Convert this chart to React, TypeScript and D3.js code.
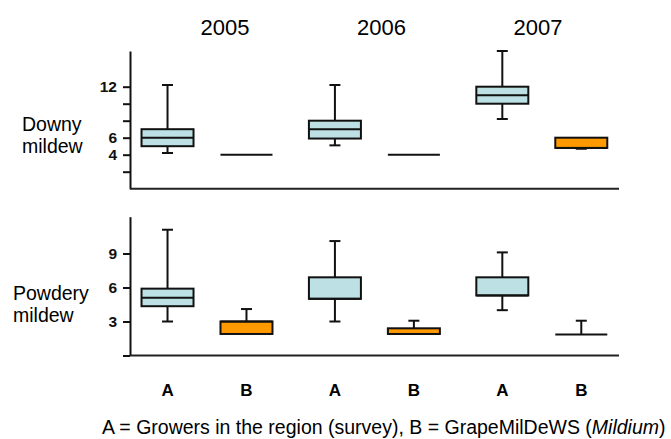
import { axisLeft, scaleBand, scaleLinear, scalePoint, select } from 'd3';
import { useEffect, useRef } from 'react';

// year groups and the two sources inside each group
const years = ['2005', '2006', '2007'];
const sources = ['A', 'B'];

// [min, q1, median, q3, max] per year, A then B
const downyA = [
  [4.2, 5, 6, 7, 12.2],
  [5.1, 5.9, 7, 8, 12.2],
  [8.2, 10, 11, 12, 16.2],
];
const downyB = [
  [4, 4, 4, 4, 4],
  [4, 4, 4, 4, 4],
  [4.7, 4.8, 4.8, 6, 6],
];
const powderyA = [
  [3, 4.35, 5.1, 5.9, 11.1],
  [3, 5, 5, 6.9, 10.1],
  [4, 5.3, 5.3, 6.9, 9.1],
];
const powderyB = [
  [1.9, 1.9, 3, 3, 4.1],
  [1.9, 1.9, 1.9, 2.4, 3.07],
  [1.85, 1.85, 1.85, 1.85, 3.07],
];

const downyTicks = [2, 4, 6, 8, 10, 12];
const downyLabels = [4, 6, 12];
const powderyTicks = [0, 3, 6, 9];
const powderyLabels = [3, 6, 9];

export default function App() {
  const svgRef = useRef<SVGSVGElement>(null);

  useEffect(() => {
    const width = 671;
    const height = 439;
    const font = "'Liberation Sans', Arial, sans-serif";
    const colors = { A: '#bce0e3', B: '#ff9900' };

    const svg = select(svgRef.current);
    svg.selectAll('*').remove();
    svg.attr('width', width).attr('height', height);

    const x = scaleBand().domain(years).range([123.3, 625.5]);
    const inner = scalePoint().domain(sources).range([0, x.bandwidth()]).padding(0.56);
    const titleX = scalePoint().domain(years).range([225, 538]);
    const boxW = 52;
    const capW = 11;
    const axisX = 130;
    const axisRight = 619;

    // year titles
    svg
      .selectAll('text.year')
      .data(years)
      .enter()
      .append('text')
      .attr('class', 'year')
      .attr('x', (d) => titleX(d)!)
      .attr('y', 35)
      .attr('text-anchor', 'middle')
      .attr('font-family', font)
      .attr('font-size', 22)
      .text((d) => d);

    const panels = [
      {
        name: ['Downy', 'mildew'],
        labelX: 22,
        labelY: 131,
        range: [188.7, 51],
        domain: [0, 16.2],
        ticks: downyTicks,
        labels: downyLabels,
        A: downyA,
        B: downyB,
      },
      {
        name: ['Powdery', 'mildew'],
        labelX: 13,
        labelY: 300,
        range: [355.5, 216.7],
        domain: [0, 12.25],
        ticks: powderyTicks,
        labels: powderyLabels,
        A: powderyA,
        B: powderyB,
      },
    ];

    panels.forEach((p) => {
      const y = scaleLinear().domain(p.domain).range(p.range);
      const g = svg.append('g');

      // panel label
      const lbl = g
        .append('text')
        .attr('font-family', font)
        .attr('font-size', 19.5)
        .attr('x', p.labelX)
        .attr('y', p.labelY);
      lbl.append('tspan').attr('x', p.labelX).text(p.name[0]);
      lbl.append('tspan').attr('x', p.labelX).attr('dy', 22).text(p.name[1]);

      // y axis
      const ax = g
        .append('g')
        .attr('transform', `translate(${axisX},0)`)
        .call(
          axisLeft(y)
            .tickValues(p.ticks)
            .tickSize(7)
            .tickPadding(6)
            .tickSizeOuter(0)
            .tickFormat((d) => (p.labels.includes(+d) ? String(d) : '')),
        );
      ax.select('.domain').attr('stroke', '#111').attr('stroke-width', 2);
      ax.selectAll('.tick line').attr('stroke', '#111').attr('stroke-width', 2);
      ax.selectAll('.tick text')
        .attr('font-family', font)
        .attr('font-size', 15.5)
        .attr('font-weight', 'bold')
        .attr('fill', '#111');

      // x axis baseline
      g.append('line')
        .attr('x1', axisX)
        .attr('x2', axisRight)
        .attr('y1', y(0))
        .attr('y2', y(0))
        .attr('stroke', '#222')
        .attr('stroke-width', 2);

      const boxes = years.flatMap((yr, i) =>
        sources.map((s) => ({ yr, s, v: (s === 'A' ? p.A : p.B)[i] })),
      );

      const bg = g
        .selectAll('g.box')
        .data(boxes)
        .enter()
        .append('g')
        .attr('class', 'box')
        .attr('transform', (d) => `translate(${x(d.yr)! + inner(d.s)!},0)`);

      const line = (sel: any, x1: any, x2: any, y1: any, y2: any) =>
        sel
          .append('line')
          .attr('x1', x1)
          .attr('x2', x2)
          .attr('y1', y1)
          .attr('y2', y2)
          .attr('stroke', '#111')
          .attr('stroke-width', 2);

      // whiskers
      line(bg, 0, 0, (d: any) => y(d.v[4]), (d: any) => y(d.v[3]));
      line(bg, 0, 0, (d: any) => y(d.v[1]), (d: any) => y(d.v[0]));
      bg.filter((d) => d.v[4] > d.v[3]).call((s) =>
        line(s, -capW / 2, capW / 2, (d: any) => y(d.v[4]), (d: any) => y(d.v[4])),
      );
      bg.filter((d) => d.v[0] < d.v[1]).call((s) =>
        line(s, -capW / 2, capW / 2, (d: any) => y(d.v[0]), (d: any) => y(d.v[0])),
      );

      // box
      bg.append('rect')
        .attr('x', -boxW / 2)
        .attr('width', boxW)
        .attr('y', (d) => y(d.v[3]))
        .attr('height', (d) => y(d.v[1]) - y(d.v[3]))
        .attr('fill', (d) => colors[d.s as 'A' | 'B'])
        .attr('stroke', '#111')
        .attr('stroke-width', 2);

      // median
      line(bg, -boxW / 2, boxW / 2, (d: any) => y(d.v[2]), (d: any) => y(d.v[2]));
    });

    // category labels
    years.forEach((yr) => {
      svg
        .selectAll(null)
        .data(sources)
        .enter()
        .append('text')
        .attr('x', (d) => x(yr)! + inner(d)!)
        .attr('y', 395.5)
        .attr('text-anchor', 'middle')
        .attr('font-family', font)
        .attr('font-size', 17)
        .attr('font-weight', 'bold')
        .text((d) => d);
    });

    // legend line
    const leg = svg
      .append('text')
      .attr('x', 102)
      .attr('y', 434)
      .attr('font-family', font)
      .attr('font-size', 19.5);
    leg.append('tspan').text('A = Growers in the region (survey), B = GrapeMilDeWS (');
    leg.append('tspan').attr('font-style', 'italic').text('Mildium');
    leg.append('tspan').text(')');
  }, []);

  return (
    <div style={{ position: 'absolute', left: 0, top: 0 }}>
      <svg ref={svgRef} style={{ display: 'block' }}></svg>
    </div>
  );
}
